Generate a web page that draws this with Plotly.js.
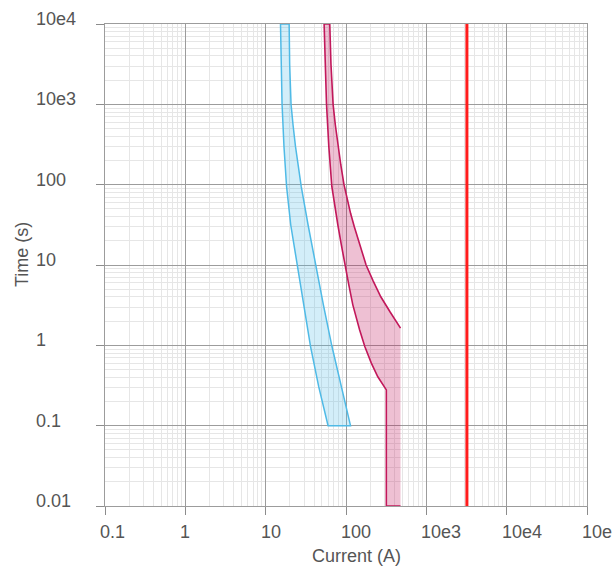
<!DOCTYPE html>
<html>
<head>
<meta charset="utf-8">
<script src="https://cdn.plot.ly/plotly-3.0.1.min.js"></script>
<style>html,body{margin:0;padding:0;background:#fff;}#chart{width:612px;height:570px;}</style>
</head>
<body>
<div id="chart"></div>
<script>
// Tick values and labels
const xTickVals = [0.1, 1, 10, 100, 1000, 10000, 100000];
const xTickText = ['0.1', '1', '10', '100', '10e3', '10e4', '10e5'];
const yTickVals = [0.01, 0.1, 1, 10, 100, 1000, 10000];
const yTickText = ['0.01', '0.1', '1', '10', '100', '10e3', '10e4'];

// Blue band (current A vs time s)
const blueLeftI  = [15.3, 15.6, 16.0, 16.9, 18.2, 20.5, 24.6, 29.6, 36.2, 45.8, 59.8];
const blueLeftT  = [10000, 3160, 1000, 299, 95, 31.7, 10, 3.19, 0.966, 0.304, 0.1];
const blueRightI = [19.6, 19.9, 20.7, 21.9, 23.5, 25.4, 27.7, 33.7, 41.8, 52.3, 66.9, 86.9, 113.8];
const blueRightT = [10000, 3160, 1000, 557, 299, 172, 95, 31.7, 10, 3.19, 0.966, 0.304, 0.1];

// Crimson band
const redLeftI  = [53.4, 57.2, 61.1, 66.6, 71.5, 79.1, 87.4, 96.6, 108.4, 121.6, 138.3, 147.6, 171.4, 206.6, 248.9, 317.7, 317.7];
const redLeftT  = [10000, 1000, 299, 95, 56.2, 31.7, 17.9, 10.05, 5.66, 3.19, 1.96, 1.56, 0.966, 0.6, 0.406, 0.279, 0.01];
const redRightI = [62.8, 65.0, 69.1, 73.6, 79.8, 86.1, 94.4, 103.2, 114, 126.9, 142.6, 158.6, 177.9, 217.5, 271, 356, 477];
const redRightT = [10000, 3160, 1000, 557, 300, 177, 100, 64.9, 44, 29.9, 20, 14.2, 10, 6.36, 4.02, 2.58, 1.64];
const redFillEndI = 477;
const redFillEndT = 0.01;

// Red vertical marker
const markerI = [3200, 3200];
const markerT = [0.01, 10000];

const blueLine = 'rgb(79,186,230)';
const blueFill = 'rgba(79,186,230,0.25)';
const redLine = 'rgb(194,24,91)';
const redFill = 'rgba(194,24,91,0.27)';

const bluePolyX = blueLeftI.concat(blueRightI.slice().reverse(), [blueLeftI[0]]);
const bluePolyY = blueLeftT.concat(blueRightT.slice().reverse(), [blueLeftT[0]]);

const redFillX = redLeftI.concat([redFillEndI], redRightI.slice().reverse());
const redFillY = redLeftT.concat([redFillEndT], redRightT.slice().reverse());

const redPathX = [redFillEndI].concat(redLeftI.slice().reverse(), redRightI);
const redPathY = [redFillEndT].concat(redLeftT.slice().reverse(), redRightT);

const traces = [
  {x: bluePolyX, y: bluePolyY, type: 'scatter', mode: 'lines', fill: 'toself',
   fillcolor: blueFill, line: {color: blueLine, width: 1.5}, hoverinfo: 'skip', showlegend: false},
  {x: redFillX, y: redFillY, type: 'scatter', mode: 'lines', fill: 'toself',
   fillcolor: redFill, line: {width: 0, color: 'rgba(0,0,0,0)'}, hoverinfo: 'skip', showlegend: false},
  {x: redPathX, y: redPathY, type: 'scatter', mode: 'lines',
   line: {color: redLine, width: 1.6}, hoverinfo: 'skip', showlegend: false},
  {x: markerI, y: markerT, type: 'scatter', mode: 'lines',
   line: {color: 'rgb(255,28,28)', width: 3}, hoverinfo: 'skip', showlegend: false}
];

const font = {family: '"Liberation Sans", Arial, sans-serif', size: 18, color: '#555'};

const annotations = [];
xTickVals.forEach((v, i) => {
  annotations.push({xref: 'x', yref: 'paper', x: Math.log10(v), y: 0, xanchor: 'left', yanchor: 'middle',
    xshift: -7, yshift: -26, text: xTickText[i], showarrow: false, font: font});
});
yTickVals.forEach((v, i) => {
  annotations.push({xref: 'paper', yref: 'y', x: -71 / 482, y: Math.log10(v), xanchor: 'left', yanchor: 'middle',
    yshift: 5, text: yTickText[i], showarrow: false, font: font});
});
annotations.push({xref: 'paper', yref: 'paper', x: 0.5228, y: 0, yshift: -50, xanchor: 'center', yanchor: 'middle',
  text: 'Current (A)', showarrow: false, font: font});
annotations.push({xref: 'paper', yref: 'paper', x: -0.1722, y: 0.5228, xanchor: 'center', yanchor: 'middle',
  text: 'Time (s)', textangle: -90, showarrow: false, font: font});

const axisCommon = {
  type: 'log', showgrid: true, gridcolor: '#9c9c9c', gridwidth: 1,
  showline: true, linecolor: '#9c9c9c', linewidth: 1, mirror: true,
  ticks: 'outside', ticklen: 8, tickcolor: '#8c8c8c', tickwidth: 1,
  dtick: 1, showticklabels: false, zeroline: false, fixedrange: true,
  minor: {dtick: 'D1', showgrid: true, gridcolor: '#e6e6e6', gridwidth: 1, ticks: ''}
};

const layout = {
  width: 612, height: 570, autosize: false,
  margin: {l: 105, r: 25, t: 24, b: 64, pad: 0},
  paper_bgcolor: '#fff', plot_bgcolor: '#fff',
  font: font,
  showlegend: false,
  xaxis: Object.assign({}, axisCommon, {range: [-1, 5]}),
  yaxis: Object.assign({}, axisCommon, {range: [-2, 4]}),
  annotations: annotations
};

Plotly.newPlot('chart', traces, layout, {displayModeBar: false, staticPlot: true});
</script>
</body>
</html>
